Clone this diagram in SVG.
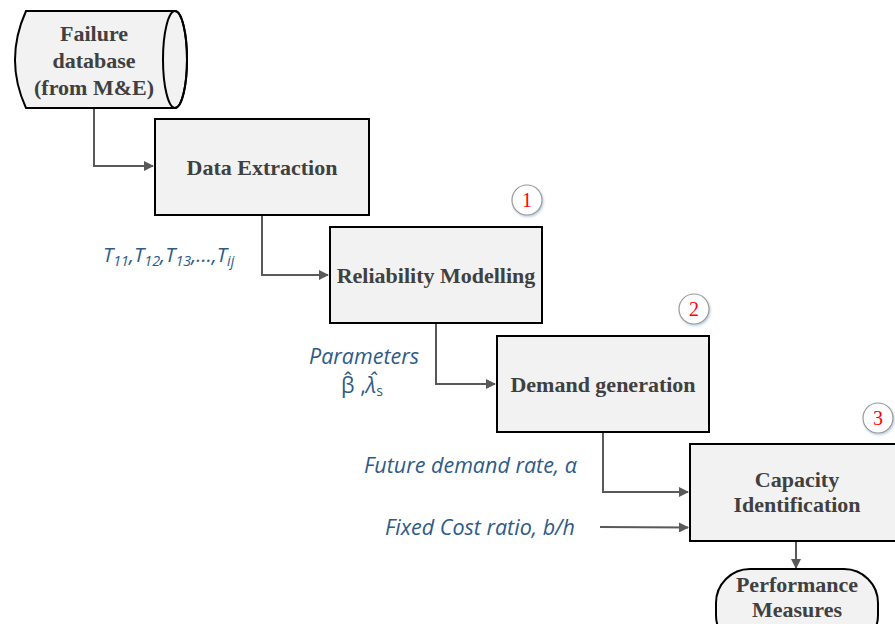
<svg xmlns="http://www.w3.org/2000/svg" width="895" height="624" viewBox="0 0 895 624">
<style>
.box{fill:#f2f2f2;stroke:#000;stroke-width:2}
.lbl{font-family:"Liberation Serif","DejaVu Serif",serif;font-weight:bold;font-size:22px;fill:#404040;text-anchor:middle}
.it{font-family:"Open Sans","Noto Sans",sans-serif;font-style:italic;font-size:21.5px;fill:#2e5a88}
.up{font-style:normal}
.con{fill:none;stroke:#595959;stroke-width:2}
.num{fill:#fff;stroke:#9a9a9a;stroke-width:1.2}
.numt{font-family:"Liberation Serif",serif;font-size:20px;fill:#ff0000;text-anchor:middle}
</style>
<defs>
<marker id="ah" markerWidth="10" markerHeight="10" refX="9" refY="5" orient="auto" markerUnits="userSpaceOnUse">
<path d="M0,0 L10,5 L0,10 z" fill="#595959"/>
</marker>
<filter id="sh" x="-30%" y="-30%" width="160%" height="160%">
<feDropShadow dx="1" dy="1.5" stdDeviation="1.2" flood-color="#7a9cc6" flood-opacity="0.5"/>
</filter>
</defs>
<g id="connectors">
<path class="con" d="M94,108 V166 H153" marker-end="url(#ah)"/>
<path class="con" d="M262,215 V275 H328" marker-end="url(#ah)"/>
<path class="con" d="M436,323 V384 H495" marker-end="url(#ah)"/>
<path class="con" d="M603,432 V492 H688" marker-end="url(#ah)"/>
<path class="con" d="M600,527 L688,527.5" marker-end="url(#ah)"/>
<path class="con" d="M796,541 V568" marker-end="url(#ah)"/>
</g>
<g id="failure-db">
<path class="box" d="M26,11 H175 A12,48.5 0 0 1 175,108 H26 Q4,60 26,11 Z"/>
<ellipse cx="175" cy="59.5" rx="12" ry="48.5" fill="none" stroke="#000" stroke-width="2"/>
<text class="lbl" x="94" y="41">Failure</text>
<text class="lbl" x="94" y="68">database</text>
<text class="lbl" x="94" y="95">(from M&amp;E)</text>
</g>
<g id="data-extraction">
<rect class="box" x="155" y="119" width="214" height="96"/>
<text class="lbl" x="262" y="175">Data Extraction</text>
</g>
<g id="reliability">
<rect class="box" x="330" y="227" width="212" height="96"/>
<text class="lbl" x="436" y="283">Reliability Modelling</text>
</g>
<g id="demand">
<rect class="box" x="497" y="336" width="212" height="96"/>
<text class="lbl" x="603" y="392">Demand generation</text>
</g>
<g id="capacity">
<rect class="box" x="690" y="444" width="215" height="97"/>
<text class="lbl" x="797" y="487">Capacity</text>
<text class="lbl" x="797" y="512">Identification</text>
</g>
<g id="performance">
<rect class="box" x="716" y="569" width="162" height="80" rx="34" ry="34"/>
<text class="lbl" x="797" y="592">Performance</text>
<text class="lbl" x="797" y="617">Measures</text>
</g>
<g id="badge1">
<circle class="num" cx="527" cy="200" r="15" filter="url(#sh)"/>
<text class="numt" x="527" y="207">1</text>
</g>
<g id="badge2">
<circle class="num" cx="694" cy="309" r="15" filter="url(#sh)"/>
<text class="numt" x="694" y="316">2</text>
</g>
<g id="badge3">
<circle class="num" cx="878" cy="418" r="15" filter="url(#sh)"/>
<text class="numt" x="878" y="425">3</text>
</g>
<g id="labels">
<text class="it" x="103" y="262" style="font-size:20.5px">T<tspan style="font-size:14.3px" dy="4">11</tspan><tspan dy="-4">,T</tspan><tspan style="font-size:14.3px" dy="4">12</tspan><tspan dy="-4">,T</tspan><tspan style="font-size:14.3px" dy="4">13</tspan><tspan dy="-4">,…,T</tspan><tspan style="font-size:14.3px" dy="4">ij</tspan></text>
<text class="it" x="364" y="364" text-anchor="middle">Parameters</text>
<text class="it" x="362" y="393" text-anchor="middle"><tspan class="up">β̂ ,</tspan>λ̂<tspan font-size="14" dy="3" class="up">s</tspan></text>
<text class="it" x="577" y="473" text-anchor="end">Future demand rate, α</text>
<text class="it" x="575" y="535" text-anchor="end">Fixed Cost ratio, b/h</text>
</g>
</svg>
